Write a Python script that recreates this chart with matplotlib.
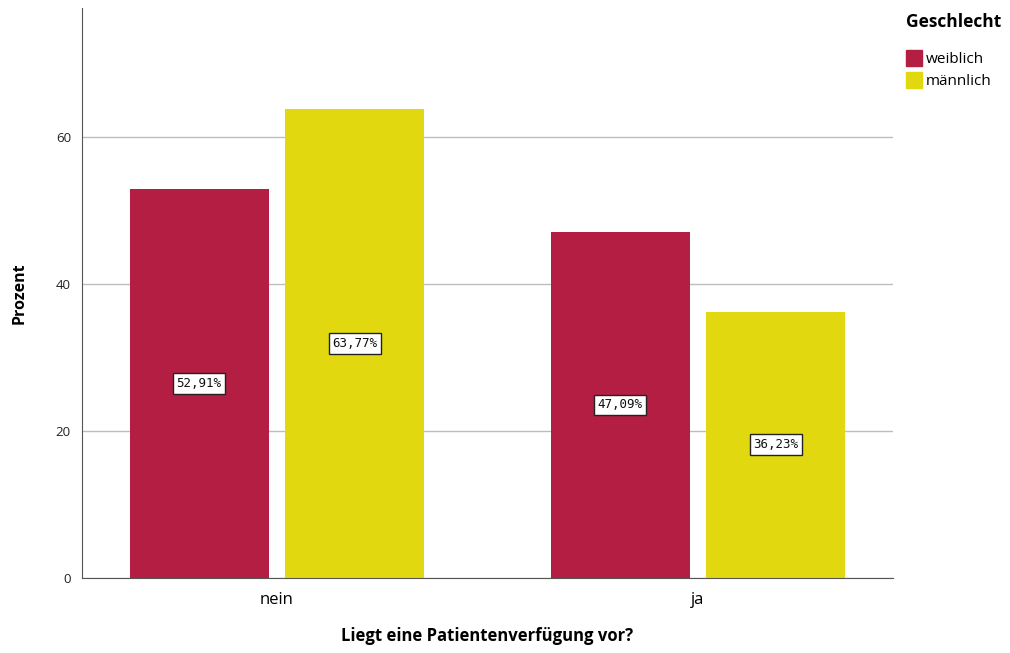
import matplotlib
matplotlib.use('Agg')
import matplotlib.pyplot as plt
import matplotlib.patches as mpatches
import numpy as np

# Daten
kategorien = ['nein', 'ja']
weiblich = [52.91, 47.09]
maennlich = [63.77, 36.23]
gruppen = ['weiblich', 'männlich']
farben = ['#b41e42', '#e1d80f']

plt.rcParams['font.family'] = ['Open Sans', 'DejaVu Sans']

fig = plt.figure(figsize=(10.1, 6.53), dpi=100)
ax = fig.add_axes([0.0812, 0.1149, 0.8030, 0.8729])

x = np.arange(len(kategorien))
breite = 0.33
versatz = 0.185

for werte, farbe, dx in [(weiblich, farben[0], -versatz), (maennlich, farben[1], versatz)]:
    balken = ax.bar(x + dx, werte, width=breite, color=farbe, zorder=2)
    for b, v in zip(balken, werte):
        ax.text(b.get_x() + b.get_width() / 2, v / 2,
                f'{v:.2f}%'.replace('.', ','),
                ha='center', va='center', fontsize=9,
                family='DejaVu Sans Mono', color='#111111', zorder=3,
                bbox=dict(boxstyle='square,pad=0.3', facecolor='white',
                          edgecolor='#222222', linewidth=1.0))

ax.set_xlim(-0.463, 1.463)
ax.set_ylim(0, 77.5)
ax.set_yticks([0, 20, 40, 60])
ax.set_xticks(x)
ax.set_xticklabels(kategorien, fontsize=12)
ax.tick_params(axis='y', length=0, pad=8, labelsize=9.5, colors='#222222')
ax.tick_params(axis='x', length=0, pad=10)
ax.grid(axis='y', color='#bdbdbd', linewidth=1, zorder=0)

for s in ['top', 'right']:
    ax.spines[s].set_visible(False)
ax.spines['left'].set_color('#555555')
ax.spines['bottom'].set_color('#555555')

ax.set_ylabel('Prozent', fontsize=11.5, fontweight='bold', labelpad=20)
ax.set_xlabel('Liegt eine Patientenverfügung vor?', fontsize=12,
              fontweight='bold', labelpad=14)

handles = [mpatches.Patch(color=c, label=l) for l, c in zip(gruppen, farben)]
leg = fig.legend(handles=handles, title='Geschlecht', loc='upper left',
                 bbox_to_anchor=(0.891, 0.99), frameon=False, fontsize=11,
                 handlelength=1.05, handleheight=1.2, handletextpad=0.25,
                 labelspacing=0.35, borderaxespad=0)
leg.get_title().set_fontweight('bold')
leg.get_title().set_fontsize(12.5)
leg._legend_box.align = 'left'
leg._legend_box.sep = 14

plt.savefig('out.png', dpi=100, facecolor='white')
plt.close()
